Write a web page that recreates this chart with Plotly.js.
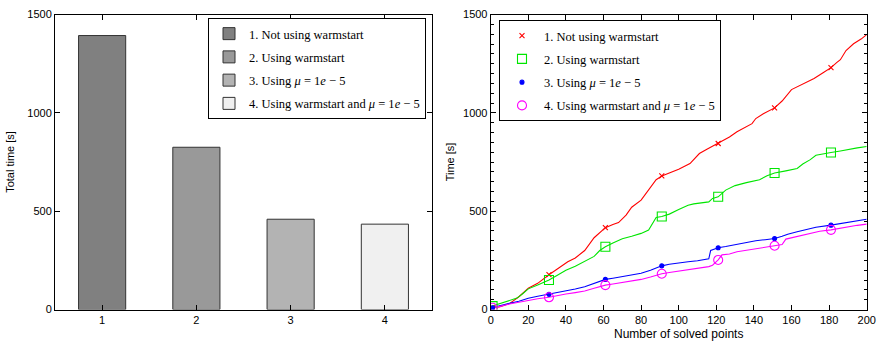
<!DOCTYPE html>
<html>
<head>
<meta charset="utf-8">
<script src="https://cdn.plot.ly/plotly-3.0.1.min.js"></script>
<style>html,body{margin:0;padding:0;background:#fff;}#chart{width:877px;height:341px;}</style>
</head>
<body>
<div id="chart"></div>
<script>
// ---- Data ----
const barCategories = [1, 2, 3, 4];
const barTotals = [1393, 825, 459, 434];
const seriesNames = [
  '1. Not using warmstart',
  '2. Using warmstart',
  '3. Using <i>μ</i> = 1<i>e</i> − 5',
  '4. Using warmstart and <i>μ</i> = 1<i>e</i> − 5'
];
const barColors = ['rgb(128,128,128)', 'rgb(153,153,153)', 'rgb(179,179,179)', 'rgb(240,240,240)'];

const redX = [0,5,10,15,20,25,31,35,41,45,50,55,58,61,65,68,72,75,80,85,88,91,95,100,106,111,115,121,127,131,136,139,141,145,151,155,160,167,172,177,181,184,186,189,193,197,200];
const redY = [5,14,30,65,108,133,177,205,243,262,300,365,392,416,432,442,480,520,556,620,660,679,695,713,742,793,815,844,877,904,930,945,971,995,1025,1060,1118,1150,1175,1205,1230,1255,1270,1317,1351,1375,1398];

const greenX = [0,5,10,14,17,20,25,31,35,40,45,50,55,58,61,65,70,75,80,84,86,88,91,95,100,105,108,116,118,121,125,130,136,143,147,151,157,163,166,170,173,177,181,186,190,195,200];
const greenY = [15,30,48,58,80,105,125,150,172,200,220,243,270,300,319,338,360,372,387,404,440,468,473,485,508,530,537,547,565,573,607,630,645,660,680,694,705,717,740,762,784,792,798,806,814,822,829];

const blueX = [0,5,10,15,20,25,31,35,40,45,50,55,61,65,70,75,80,85,91,95,100,105,110,116,117,121,125,131,136,141,146,151,155,158,163,168,173,181,186,190,195,200];
const blueY = [8,18,31,42,57,67,77,86,95,104,116,133,153,159,167,174,184,200,222,230,238,243,248,258,300,314,320,332,342,350,355,361,372,383,395,408,418,429,436,442,450,459];

const magentaX = [0,5,10,15,20,25,31,35,40,45,50,55,61,65,70,75,80,85,91,95,100,105,110,116,118,120,121,123,127,131,136,141,146,151,155,157,160,165,170,175,181,186,190,195,200];
const magentaY = [8,16,28,38,48,55,62,71,79,86,94,108,124,130,138,145,153,165,182,188,195,203,210,218,225,245,252,278,282,294,302,310,316,324,330,358,365,378,390,398,405,414,420,428,434];

const markerX = [1, 31, 61, 91, 121, 151, 181];
const redMarkY = [8, 177, 416, 679, 844, 1025, 1230];
const greenMarkY = [17, 150, 319, 473, 573, 694, 798];
const blueMarkY = [9, 77, 153, 222, 314, 361, 429];
const magentaMarkY = [9, 62, 124, 182, 252, 324, 405];

const yTicks = [0, 500, 1000, 1500];
const xTicksRight = [0, 20, 40, 60, 80, 100, 120, 140, 160, 180, 200];

// ---- Traces ----
const traces = [];
barCategories.forEach((c, i) => {
  traces.push({
    type: 'bar', x: [c], y: [barTotals[i]], name: seriesNames[i],
    xaxis: 'x', yaxis: 'y', width: 0.5,
    marker: {color: barColors[i], line: {color: '#333', width: 1}},
    legend: 'legend', legendgroup: 'b' + i
  });
});

const lineColors = ['rgb(255,0,0)', 'rgb(0,230,0)', 'rgb(0,0,255)', 'rgb(255,0,255)'];
const lineX = [redX, greenX, blueX, magentaX];
const lineY = [redY, greenY, blueY, magentaY];
const markY = [redMarkY, greenMarkY, blueMarkY, magentaMarkY];
const markerSymbols = ['x-thin-open', 'square-open', 'circle', 'circle-open'];
const markerSizes = [5, 9, 4, 9];

lineX.forEach((xs, i) => {
  traces.push({
    type: 'scatter', mode: 'lines', x: xs, y: lineY[i],
    xaxis: 'x2', yaxis: 'y2', showlegend: false,
    line: {color: lineColors[i], width: 1.1}, hoverinfo: 'skip'
  });
});
markY.forEach((ys, i) => {
  traces.push({
    type: 'scatter', mode: 'markers', x: markerX, y: ys, name: seriesNames[i],
    xaxis: 'x2', yaxis: 'y2', legend: 'legend2', legendgroup: 'l' + i,
    marker: {symbol: markerSymbols[i], size: markerSizes[i], color: lineColors[i],
             line: {color: lineColors[i], width: 1.1}}
  });
});

const W = 877, H = 341;
const axisFont = {family: 'Liberation Sans, Arial, sans-serif', size: 11, color: '#000'};
const legendFont = {family: 'Liberation Serif, DejaVu Serif, serif', size: 12.5, color: '#000'};
const common = {
  showline: true, linecolor: '#000', linewidth: 1, mirror: 'ticks',
  ticks: 'inside', ticklen: 5, tickcolor: '#000', showgrid: false, zeroline: false,
  tickfont: axisFont, automargin: false
};
const yDomain = [1 - 309.5 / H, 1 - 14.5 / H];

const layout = {
  width: W, height: H,
  margin: {l: 0, r: 0, t: 0, b: 0},
  paper_bgcolor: '#fff', plot_bgcolor: '#fff',
  showlegend: true,
  xaxis: Object.assign({}, common, {
    domain: [55 / W, 432 / W], range: [0.5, 4.5],
    tickvals: barCategories, ticktext: barCategories.map(String), anchor: 'y'
  }),
  yaxis: Object.assign({}, common, {
    domain: yDomain, range: [0, 1500], tickvals: yTicks, anchor: 'x',
    title: {text: 'Total time [s]', font: axisFont, standoff: 10}
  }),
  xaxis2: Object.assign({}, common, {
    domain: [490.7 / W, 866.7 / W], range: [0, 200], tickvals: xTicksRight, anchor: 'y2',
    title: {text: 'Number of solved points', font: {family: axisFont.family, size: 12, color: '#000'}, standoff: 4}
  }),
  yaxis2: Object.assign({}, common, {
    domain: yDomain, range: [0, 1500], tickvals: yTicks, anchor: 'x2',
    title: {text: 'Time [s]', font: axisFont, standoff: 6},
    minor: {dtick: 50, ticks: 'inside', ticklen: 3, tickcolor: '#000', showgrid: false}
  }),
  legend: {
    x: 426 / W, xanchor: 'right', y: 1 - 18 / H, yanchor: 'top',
    bgcolor: '#fff', bordercolor: '#000', borderwidth: 1,
    font: legendFont, traceorder: 'grouped', tracegroupgap: 4
  },
  legend2: {
    x: 499 / W, xanchor: 'left', y: 1 - 20 / H, yanchor: 'top',
    bgcolor: '#fff', bordercolor: '#000', borderwidth: 1,
    font: legendFont, traceorder: 'grouped', tracegroupgap: 4, itemwidth: 34
  }
};

Plotly.newPlot('chart', traces, layout, {displayModeBar: false, staticPlot: true});
</script>
</body>
</html>
